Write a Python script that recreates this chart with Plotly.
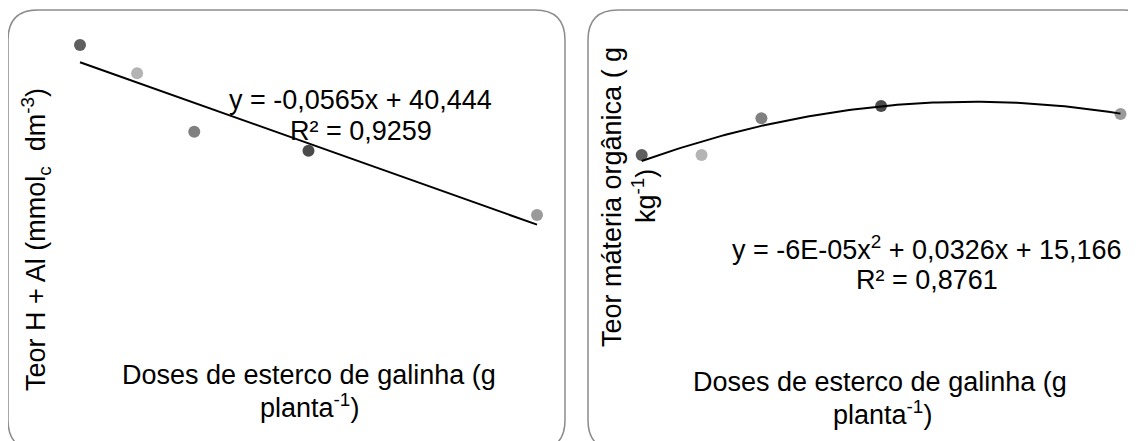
import numpy as np
import plotly.graph_objects as go

# ---------------- data ----------------
doses = [0, 50, 100, 200, 400]
h_al = [42.85, 38.92, 30.80, 28.17, 19.24]
mat_org = [15.55, 15.55, 18.38, 19.33, 18.72]
point_colors = ["#5f5f5f", "#b4b4b4", "#808080", "#4a4a4a", "#9a9a9a"]

eq_left = ["y = -0,0565x + 40,444", "R² = 0,9259"]
eq_right = ["y = -6E-05x<sup>2</sup> + 0,0326x + 15,166", "R² = 0,8761"]
xtitle = ["Doses de esterco de galinha (g", "planta<sup>-1</sup>)"]
ytitle_left = "Teor H + Al (mmol<sub>c</sub>  dm<sup>-3</sup>)"
ytitle_right = ["Teor máteria orgânica ( g", "kg<sup>-1</sup>)"]

W, H = 1136, 441
OFF = 8  # page body margin
FONT = "Liberation Sans, Arial, sans-serif"
FS = 27


def px(x):
    return (x - OFF) / W


def py(y):
    return 1 - (y - OFF) / H


fig = go.Figure()

# trend lines from data
lin = np.polyfit(doses, h_al, 1)
quad = np.polyfit(doses, mat_org, 2)
xl = np.array([min(doses), max(doses)])
xq = np.linspace(min(doses), max(doses), 121)

fig.add_trace(go.Scatter(x=doses, y=h_al, mode="markers", xaxis="x", yaxis="y",
                         marker=dict(size=12, color=point_colors), cliponaxis=False,
                         showlegend=False))
fig.add_trace(go.Scatter(x=xl, y=np.polyval(lin, xl), mode="lines", xaxis="x", yaxis="y",
                         line=dict(color="black", width=2), cliponaxis=False,
                         showlegend=False))
fig.add_trace(go.Scatter(x=doses, y=mat_org, mode="markers", xaxis="x2", yaxis="y2",
                         marker=dict(size=12, color=point_colors), cliponaxis=False,
                         showlegend=False))
fig.add_trace(go.Scatter(x=xq, y=np.polyval(quad, xq), mode="lines", xaxis="x2", yaxis="y2",
                         line=dict(color="black", width=2), cliponaxis=False,
                         showlegend=False))

ax_common = dict(visible=False, showgrid=False, zeroline=False, fixedrange=True)
kx1 = (537 - 80) / 400
ky1 = 7.2
kx2 = (1120.5 - 641.7) / 400
ky2 = 12.96

fig.update_layout(
    width=W, height=H,
    margin=dict(l=0, r=0, t=0, b=0),
    paper_bgcolor="white", plot_bgcolor="rgba(0,0,0,0)",
    font=dict(family=FONT, size=FS, color="black"),
    xaxis=dict(domain=[px(60), px(557)], range=[(60 - 80) / kx1, (557 - 80) / kx1], anchor="y", **ax_common),
    yaxis=dict(domain=[py(400), py(30)], range=[40.444 - (400 - 62.3) / ky1, 40.444 + (62.3 - 30) / ky1], anchor="x", **ax_common),
    xaxis2=dict(domain=[px(620), px(1130)], range=[(620 - 641.7) / kx2, (1130 - 641.7) / kx2], anchor="y2", **ax_common),
    yaxis2=dict(domain=[py(400), py(30)], range=[15.166 - (400 - 160) / ky2, 15.166 + (160 - 30) / ky2], anchor="x2", **ax_common),
)


def rounded_box(x0, y0, x1, y1, r):
    pts = [
        f"M {px(x0 + r)},{py(y0)}",
        f"L {px(x1 - r)},{py(y0)}",
        f"Q {px(x1)},{py(y0)} {px(x1)},{py(y0 + r)}",
        f"L {px(x1)},{py(y1 - r)}",
        f"Q {px(x1)},{py(y1)} {px(x1 - r)},{py(y1)}",
        f"L {px(x0 + r)},{py(y1)}",
        f"Q {px(x0)},{py(y1)} {px(x0)},{py(y1 - r)}",
        f"L {px(x0)},{py(y0 + r)}",
        f"Q {px(x0)},{py(y0)} {px(x0 + r)},{py(y0)}",
        "Z",
    ]
    return dict(type="path", xref="paper", yref="paper", path=" ".join(pts),
                line=dict(color="#8c8c8c", width=1.5), fillcolor="rgba(0,0,0,0)", layer="below")


fig.add_shape(rounded_box(8, 10, 565, 450, 30))
fig.add_shape(rounded_box(588, 10, 1153, 450, 30))


def ann(text, x, y, angle=0):
    fig.add_annotation(text=text, x=px(x), y=py(y), xref="paper", yref="paper",
                       xanchor="center", yanchor="middle", showarrow=False,
                       textangle=angle, font=dict(family=FONT, size=FS, color="black"))


# left texts
ann(eq_left[0], 360, 100)
ann(eq_left[1], 361, 131)
ann(xtitle[0], 309, 375)
ann(xtitle[1], 309, 406)
ann(ytitle_left, 36, 240, -90)

# right texts
ann(eq_right[0], 927, 248)
ann(eq_right[1], 927, 280)
ann(xtitle[0], 880, 382)
ann(xtitle[1], 882, 413)
ann(ytitle_right[0], 611.5, 197.5, -90)
ann(ytitle_right[1], 644, 196, -90)

fig.write_html("out.html")
